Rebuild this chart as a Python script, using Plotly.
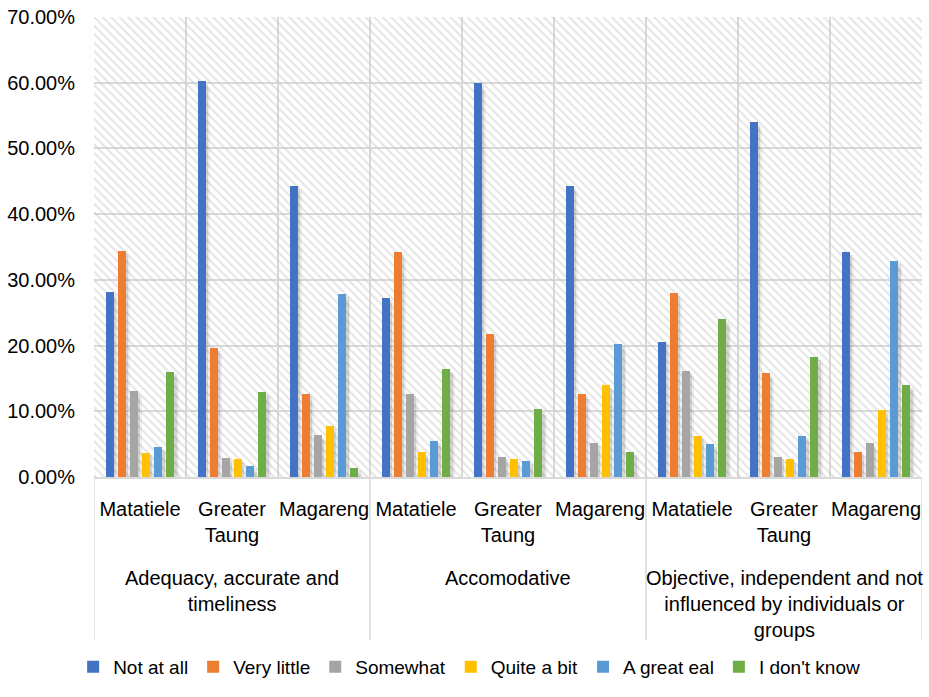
import plotly.graph_objects as go

# Categories: three aspects, each rated in three municipalities
aspects = [
    "Adequacy, accurate and<br>timeliness",
    "Accomodative",
    "Objective, independent and not<br>influenced by individuals or<br>groups",
]
places = ["Matatiele", "Greater<br>Taung", "Magareng"]

series_names = ["Not at all", "Very little", "Somewhat", "Quite a bit", "A great eal", "I don't know"]
series_colors = ["#4472C4", "#ED7D31", "#A5A5A5", "#FFC000", "#5B9BD5", "#70AD47"]

# Percentages, ordered aspect by aspect, place by place
not_at_all   = [28.2, 60.2, 44.3, 27.3, 59.9, 44.3, 20.6, 54.0, 34.2]
very_little  = [34.4, 19.6, 12.7, 34.2, 21.8, 12.7, 28.0, 15.8, 3.8]
somewhat     = [13.1, 2.9, 6.4, 12.7, 3.1, 5.1, 16.2, 3.1, 5.1]
quite_a_bit  = [3.7, 2.7, 7.7, 3.8, 2.7, 14.0, 6.2, 2.7, 10.2]
a_great_eal  = [4.5, 1.6, 27.8, 5.5, 2.4, 20.3, 5.0, 6.3, 32.8]
dont_know    = [16.0, 12.9, 1.3, 16.4, 10.3, 3.8, 24.0, 18.2, 14.0]

y_ticks = [0, 10, 20, 30, 40, 50, 60, 70]

series_values = [not_at_all, very_little, somewhat, quite_a_bit, a_great_eal, dont_know]

FONT = "Liberation Sans, Arial, sans-serif"
GRID = "#d9d9d9"

tick_text = [p for _ in aspects for p in places]
xpos = list(range(len(tick_text)))

# bar geometry in category units
pitch = 0.1315
bar_w = 0.09

fig = go.Figure()

# hatched plot background
fig.add_trace(go.Bar(
    x=xpos, y=[y_ticks[-1]] * len(xpos), width=1.0, offset=-0.5,
    marker=dict(color="rgba(0,0,0,0)", line=dict(width=0),
                pattern=dict(shape="\\", fgcolor="#c9c9c9", bgcolor="rgba(0,0,0,0)",
                             size=6, solidity=0.33, fillmode="overlay")),
    showlegend=False, hoverinfo="skip",
))

n = len(series_names)
# soft drop shadows (two layers for a blurred edge)
for dx, dy, alpha in [(0.045, 0.8, 0.06), (0.025, 0.4, 0.11)]:
    for i, vals in enumerate(series_values):
        off = (i - (n - 1) / 2) * pitch - bar_w / 2 + dx
        fig.add_trace(go.Bar(
            x=xpos, y=[max(v - dy, 0) for v in vals], width=bar_w, offset=off,
            marker=dict(color=f"rgba(0,0,0,{alpha})", line=dict(width=0)),
            showlegend=False, hoverinfo="skip",
        ))

for i, (name, vals, col) in enumerate(zip(series_names, series_values, series_colors)):
    off = (i - (n - 1) / 2) * pitch - bar_w / 2
    fig.add_trace(go.Bar(
        x=xpos, y=vals, width=bar_w, offset=off, name=name,
        marker=dict(color=col, line=dict(width=0)),
    ))

plot_h = 460.0
div_bottom = -(640 - 477) / plot_h

shapes = []
for xb in [-0.5, 2.5, 5.5, 8.5]:
    shapes.append(dict(type="line", xref="x", yref="paper", x0=xb, x1=xb,
                       y0=0, y1=div_bottom, line=dict(color=GRID, width=1.5)))

annotations = []
for k, a in enumerate(aspects):
    annotations.append(dict(
        x=3 * k + 1, xref="x", y=-(565 - 477) / plot_h, yref="paper",
        yanchor="top", xanchor="center", text=a, showarrow=False,
        font=dict(family=FONT, size=20, color="#000000"),
    ))

fig.update_layout(
    width=929, height=697,
    margin=dict(l=94, r=7, t=17, b=220),
    paper_bgcolor="white", plot_bgcolor="white",
    barmode="overlay",
    font=dict(family=FONT, size=20, color="#000000"),
    shapes=shapes, annotations=annotations,
    legend=dict(orientation="h", x=0.505, xanchor="center", xref="container",
                y=1 - 667 / 697, yanchor="middle", yref="container",
                font=dict(family=FONT, size=19, color="#000000"),
                itemwidth=30, tracegroupgap=0),
    xaxis=dict(range=[-0.5, 8.5], tickmode="array", tickvals=xpos, ticktext=tick_text,
               showgrid=False, zeroline=False, showline=True, linecolor=GRID, linewidth=1.5,
               ticks="", ticklabelstandoff=13, tickangle=0, automargin=False,
               tickfont=dict(family=FONT, size=20, color="#000000"),
               minor=dict(tickmode="array", tickvals=[v + 0.5 for v in range(-1, 9)],
                          showgrid=True, gridcolor=GRID, gridwidth=1.5, ticks=""),
               fixedrange=True),
    yaxis=dict(range=[0, 70], tickmode="array", tickvals=y_ticks,
               ticktext=[f"{v:.2f}%" for v in y_ticks],
               showgrid=True, gridcolor=GRID, gridwidth=1.5, zeroline=False,
               showline=False, ticks="", ticklabelstandoff=18, automargin=False,
               tickfont=dict(family=FONT, size=20, color="#000000"),
               fixedrange=True),
    bargap=0,
)

fig.write_html("out.html")
